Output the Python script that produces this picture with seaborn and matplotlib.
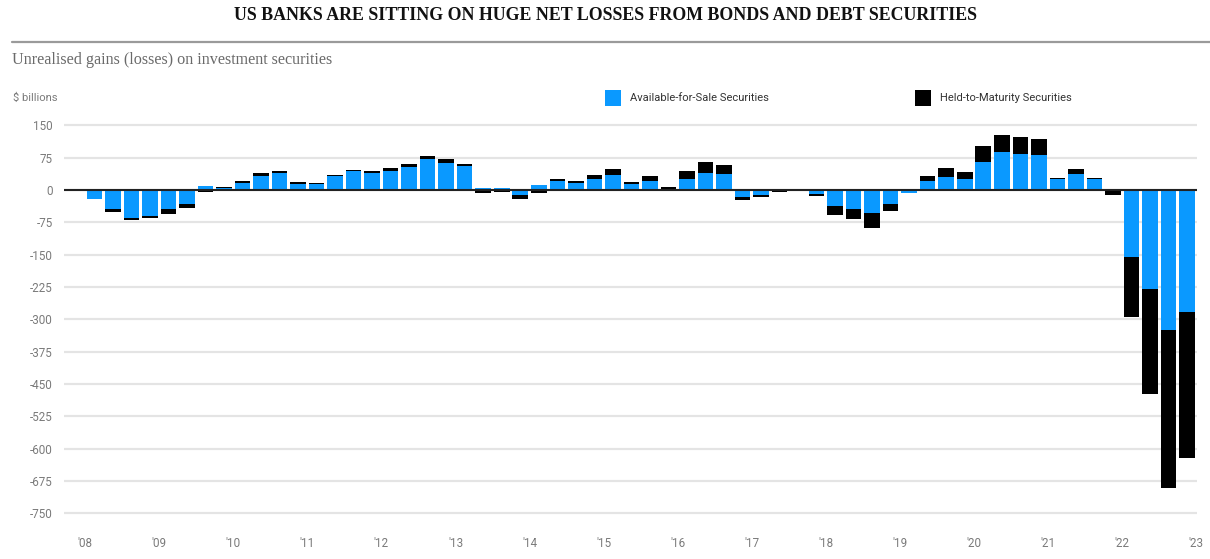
import numpy as np
import pandas as pd
import matplotlib
matplotlib.use("Agg")
import matplotlib.pyplot as plt
import seaborn as sns
from matplotlib import font_manager
from matplotlib.patches import Rectangle
from matplotlib.lines import Line2D

# ---------------- data ----------------
years = list(range(2008, 2023))
quarters = [f"{y}Q{q}" for y in years for q in range(1, 5)]

afs = [-21, -45, -66, -60, -44, -32, 10, 5, 17, 33, 40, 15, 15, 32, 44, 40,
       45, 53, 71, 63, 55, 4, 4, -12, 12, 22, 16, 26, 35, 15, 20, 3,
       26, 39, 36, -17, -11, -1, 1, -9, -38, -43, -54, -32, -6, 20, 30, 25,
       66, 87, 84, 82, 26, 36, 25, -1, -155, -230, -324, -284]
htm = [0, -5, -4, -5, -12, -9, -5, 3, 3, 6, 5, 3, 1, 2, 3, 3,
       5, 7, 9, 8, 6, -6, -5, -8, -6, 4, 4, 8, 13, 3, 13, 4,
       17, 26, 22, -6, -6, -3, 2, -4, -19, -25, -33, -16, -1, 12, 20, 17,
       35, 41, 39, 36, 2, 12, 3, -11, -139, -243, -368, -338]

y_ticks = [150, 75, 0, -75, -150, -225, -300, -375, -450, -525, -600, -675, -750]
x_tick_labels = ["'08", "'09", "'10", "'11", "'12", "'13", "'14", "'15", "'16",
                 "'17", "'18", "'19", "'20", "'21", "'22", "'23"]

series_names = ["Available-for-Sale Securities", "Held-to-Maturity Securities"]
title = "US BANKS ARE SITTING ON HUGE NET LOSSES FROM BONDS AND DEBT SECURITIES"
subtitle = "Unrealised gains (losses) on investment securities"
unit_label = "$ billions"

BLUE = "#0a99ff"
BLACK = "#000000"

# ---------------- fonts ----------------
sns.set_style("white")
available = {f.name for f in font_manager.fontManager.ttflist}
if "Liberation Sans Narrow" in available:
    SANS = "Liberation Sans Narrow"
    sans_size = 9.2
else:
    SANS = "Roboto"
    sans_size = 7.6
SERIF = "Liberation Serif" if "Liberation Serif" in available else "DejaVu Serif"
plt.rcParams["font.family"] = [SANS, "DejaVu Sans"]

# ---------------- frame ----------------
afs_a = np.array(afs, dtype=float)
htm_a = np.array(htm, dtype=float)
same_sign = np.sign(afs_a) == np.sign(htm_a)
htm_extent = np.where(same_sign, afs_a + htm_a, htm_a)

df = pd.DataFrame({"quarter": quarters, "afs": afs_a, "htm_extent": htm_extent})

W, H = 1210, 559
fig = plt.figure(figsize=(W / 100, H / 100), dpi=100)

ax_left, ax_right = 64, 1197
y_top, y_bot = 165, -760
px_per_unit = 0.4311
top_px = 190 - y_top * px_per_unit
bot_px = 190 - y_bot * px_per_unit
ax = fig.add_axes([ax_left / W, 1 - bot_px / H, (ax_right - ax_left) / W, (bot_px - top_px) / H])

sns.barplot(data=df, x="quarter", y="htm_extent", color=BLACK, saturation=1,
            width=0.84, linewidth=0, errorbar=None, ax=ax, zorder=2)
sns.barplot(data=df, x="quarter", y="afs", color=BLUE, saturation=1,
            width=0.84, linewidth=0, errorbar=None, ax=ax, zorder=2)

ax.set_xlabel("")
ax.set_ylabel("")
ax.set_ylim(y_bot, y_top)
bar_step = 18.52
first_center = 94.3
ax.set_xlim((ax_left - first_center) / bar_step, (ax_right - first_center) / bar_step)

for s in ax.spines.values():
    s.set_visible(False)

ax.set_yticks(y_ticks)
ax.set_yticklabels([str(v) for v in y_ticks])
ax.yaxis.grid(True, color="#e4e4e4", linewidth=1.6)
ax.xaxis.grid(False)
ax.set_axisbelow(True)
ax.axhline(0, color="#222222", linewidth=1.5, zorder=3)

ax.set_xticks([-0.5 + 4 * i for i in range(len(x_tick_labels))])
ax.set_xticklabels(x_tick_labels)
ax.tick_params(axis="y", length=0, pad=8, labelsize=sans_size + 0.8, labelcolor="#7a7a7a")
ax.tick_params(axis="x", length=9, width=1, color="#cccccc", pad=5,
               labelsize=sans_size + 0.8, labelcolor="#7a7a7a", direction="out")

# ---------------- texts ----------------
fig.text(0.5, 1 - 16 / H, title, ha="center", va="center", fontsize=12.9,
         fontweight="bold", family=[SERIF, "DejaVu Serif"], color="#111111")
fig.add_artist(Line2D([12 / W, 1], [1 - 42 / H, 1 - 42 / H], color="#9a9a9a",
                      linewidth=1.6, transform=fig.transFigure))
fig.text(12 / W, 1 - 60 / H, subtitle, ha="left", va="center", fontsize=11.6,
         family=[SERIF, "DejaVu Serif"], color="#6a6a6a")
fig.text(13 / W, 1 - 98 / H, unit_label, ha="left", va="center", fontsize=sans_size + 0.5,
         color="#7a7a7a")

legend_items = [(605, BLUE, series_names[0]), (915, BLACK, series_names[1])]
for x0, col, lab in legend_items:
    fig.add_artist(Rectangle((x0 / W, 1 - 106 / H), 16 / W, 16 / H, facecolor=col,
                             edgecolor="none", transform=fig.transFigure))
    fig.text((x0 + 25) / W, 1 - 98 / H, lab, ha="left", va="center",
             fontsize=sans_size + 0.4, color="#333333")

fig.savefig("out.png", dpi=100)
